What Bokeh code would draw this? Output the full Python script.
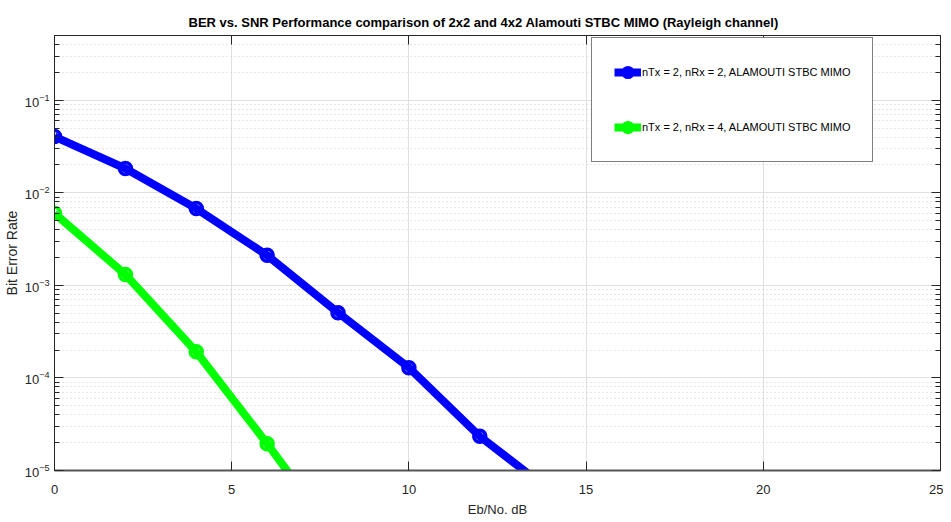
from bokeh.plotting import figure
from bokeh.models import FixedTicker, LogAxis, LinearAxis, Legend, LegendItem, Range1d
from bokeh.embed import file_html
from bokeh.resources import INLINE

# Data
snr_2x2 = [0, 2, 4, 6, 8, 10, 12, 14]
ber_2x2 = [4.05e-2, 1.83e-2, 6.75e-3, 2.11e-3, 5.07e-4, 1.29e-4, 2.34e-5, 6.0e-6]
snr_2x4 = [0, 2, 4, 6, 8]
ber_2x4 = [6.0e-3, 1.31e-3, 1.92e-4, 1.95e-5, 1.8e-6]

x_ticks = [0, 5, 10, 15, 20, 25]
y_major = [1e-5, 1e-4, 1e-3, 1e-2, 1e-1]
y_minor = [m * 10.0 ** e for e in range(-5, 0) for m in range(2, 10)]

label_2x2 = "nTx = 2, nRx = 2, ALAMOUTI STBC MIMO"
label_2x4 = "nTx = 2, nRx = 4, ALAMOUTI STBC MIMO"
title = "BER vs. SNR Performance comparison of 2x2 and 4x2 Alamouti STBC MIMO (Rayleigh channel)"

FONT = "Liberation Sans"
AX = "#262626"

p = figure(frame_width=886, frame_height=435, y_axis_type="log",
           x_range=Range1d(0, 25), y_range=Range1d(1e-5, 0.5),
           output_backend="svg", toolbar_location=None,
           min_border_left=46, min_border_right=3, min_border_top=35, min_border_bottom=43,
           background_fill_color="white", border_fill_color="white")

p.title.text = title
p.title.align = "left"
p.title.offset = 134
p.title.text_font = FONT
p.title.text_font_size = "13px"
p.title.text_font_style = "bold"
p.title.text_color = "black"
p.title.standoff = 12

p.outline_line_color = AX
p.outline_line_width = 1

# axes
xa = p.xaxis[0]
xa.ticker = FixedTicker(ticks=x_ticks, minor_ticks=[])
xa.axis_label = "Eb/No. dB"
xa.axis_label_text_font = FONT
xa.axis_label_text_font_size = "13px"
xa.axis_label_text_font_style = "normal"
xa.axis_label_text_color = AX
xa.axis_label_standoff = 5
xa.major_label_text_font = FONT
xa.major_label_text_font_size = "13px"
xa.major_label_text_color = AX
xa.major_label_standoff = 14
xa.major_tick_in = 9
xa.major_tick_out = 0
xa.axis_line_color = "#555555"
xa.axis_line_width = 2
xa.major_tick_line_color = AX

ya = p.yaxis[0]
ya.ticker = FixedTicker(ticks=y_major, minor_ticks=y_minor)
ya.axis_label = "Bit Error Rate"
ya.axis_label_text_font = FONT
ya.axis_label_text_font_size = "14px"
ya.axis_label_text_font_style = "normal"
ya.axis_label_text_color = AX
ya.axis_label_standoff = 2
ya.major_label_text_font = FONT
ya.major_label_text_font_size = "13px"
ya.major_label_text_color = AX
ya.major_label_standoff = 5
ya.major_tick_in = 9
ya.major_tick_out = 0
ya.minor_tick_in = 5
ya.minor_tick_out = 0
ya.axis_line_color = AX
ya.major_tick_line_color = AX
ya.minor_tick_line_color = AX

ra = LogAxis(ticker=FixedTicker(ticks=y_major, minor_ticks=y_minor))
ra.major_label_text_font_size = "1px"
ra.major_label_text_alpha = 0
ra.major_label_standoff = 0
ra.major_tick_in = 9
ra.major_tick_out = 0
ra.minor_tick_in = 5
ra.minor_tick_out = 0
ra.axis_line_color = AX
ra.major_tick_line_color = AX
ra.minor_tick_line_color = AX
p.add_layout(ra, "right")

ta = LinearAxis(ticker=FixedTicker(ticks=x_ticks, minor_ticks=[]))
ta.major_label_text_font_size = "1px"
ta.major_label_text_alpha = 0
ta.major_label_standoff = 0
ta.major_tick_in = 9
ta.major_tick_out = 0
ta.axis_line_color = AX
ta.major_tick_line_color = AX
p.add_layout(ta, "above")

# grids
p.xgrid.grid_line_color = "#e0e0e0"
p.xgrid.grid_line_width = 1
p.ygrid.grid_line_color = "#e0e0e0"
p.ygrid.grid_line_width = 1
p.ygrid.minor_grid_line_color = "#cccccc"
p.ygrid.minor_grid_line_dash = "1 3"
p.ygrid.minor_grid_line_width = 1

BLUE = "#0000ff"
GREEN = "#00ff00"

l1 = p.line(snr_2x2, ber_2x2, line_color=BLUE, line_width=8)
s1 = p.scatter(snr_2x2, ber_2x2, marker="circle", size=12, line_color=BLUE,
               line_width=3.5, fill_color=None)
l2 = p.line(snr_2x4, ber_2x4, line_color=GREEN, line_width=8)
s2 = p.scatter(snr_2x4, ber_2x4, marker="circle", size=12, line_color=GREEN,
               line_width=3.5, fill_color=None)

legend = Legend(items=[LegendItem(label=label_2x2, renderers=[l1, s1]),
                       LegendItem(label=label_2x4, renderers=[l2, s2])],
                location=(537, 308))
legend.label_text_font = FONT
legend.label_text_font_size = "11px"
legend.label_text_color = "black"
legend.label_height = 24
legend.glyph_height = 24
legend.glyph_width = 27
legend.label_standoff = 1
legend.spacing = 31
legend.padding = 22
legend.margin = 0
legend.border_line_color = "black"
legend.border_line_width = 1
legend.background_fill_color = "white"
legend.background_fill_alpha = 1
p.add_layout(legend, "center")

open("out.html", "w").write(file_html(p, INLINE))
